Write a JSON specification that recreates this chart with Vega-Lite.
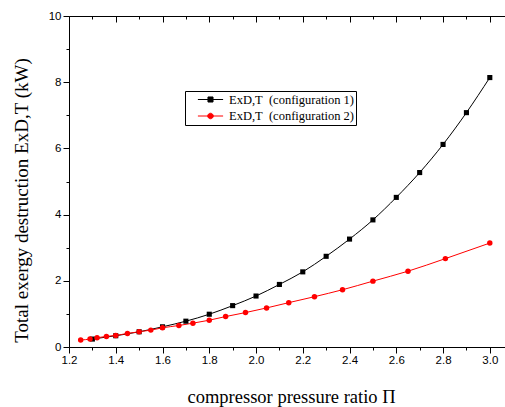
{
  "$schema": "https://vega.github.io/schema/vega-lite/v6.json",
  "width": 436,
  "height": 331,
  "autosize": "none",
  "padding": {"left": 69, "top": 16, "right": 0, "bottom": 60},
  "background": "white",
  "config": {
    "view": {"stroke": null},
    "axis": {"domainColor": "black", "tickColor": "black", "labelColor": "black", "titleColor": "black", "grid": false, "labelFont": "Liberation Sans", "labelFontSize": 11.5, "titleFont": "Liberation Serif", "titleFontWeight": "normal", "titleFontSize": 18.5, "domainWidth": 1, "tickWidth": 1}
  },
  "data": {
    "values": [
      {"s": "c1", "x": 1.3, "y": 0.24},
      {"s": "c1", "x": 1.4, "y": 0.34},
      {"s": "c1", "x": 1.5, "y": 0.46},
      {"s": "c1", "x": 1.6, "y": 0.61},
      {"s": "c1", "x": 1.7, "y": 0.78},
      {"s": "c1", "x": 1.8, "y": 0.99},
      {"s": "c1", "x": 1.9, "y": 1.25},
      {"s": "c1", "x": 2.0, "y": 1.54},
      {"s": "c1", "x": 2.1, "y": 1.89},
      {"s": "c1", "x": 2.2, "y": 2.27},
      {"s": "c1", "x": 2.3, "y": 2.74},
      {"s": "c1", "x": 2.4, "y": 3.26},
      {"s": "c1", "x": 2.5, "y": 3.84},
      {"s": "c1", "x": 2.6, "y": 4.52},
      {"s": "c1", "x": 2.7, "y": 5.27},
      {"s": "c1", "x": 2.8, "y": 6.12},
      {"s": "c1", "x": 2.9, "y": 7.08},
      {"s": "c1", "x": 3.0, "y": 8.14},
      {"s": "c2", "x": 1.25, "y": 0.21},
      {"s": "c2", "x": 1.29, "y": 0.24},
      {"s": "c2", "x": 1.32, "y": 0.28},
      {"s": "c2", "x": 1.36, "y": 0.32},
      {"s": "c2", "x": 1.40, "y": 0.35},
      {"s": "c2", "x": 1.45, "y": 0.41},
      {"s": "c2", "x": 1.50, "y": 0.46},
      {"s": "c2", "x": 1.55, "y": 0.51},
      {"s": "c2", "x": 1.60, "y": 0.58},
      {"s": "c2", "x": 1.67, "y": 0.65},
      {"s": "c2", "x": 1.73, "y": 0.72},
      {"s": "c2", "x": 1.80, "y": 0.81},
      {"s": "c2", "x": 1.87, "y": 0.92},
      {"s": "c2", "x": 1.955, "y": 1.04},
      {"s": "c2", "x": 2.045, "y": 1.18},
      {"s": "c2", "x": 2.14, "y": 1.34},
      {"s": "c2", "x": 2.25, "y": 1.52},
      {"s": "c2", "x": 2.37, "y": 1.73},
      {"s": "c2", "x": 2.50, "y": 1.99},
      {"s": "c2", "x": 2.65, "y": 2.29},
      {"s": "c2", "x": 2.81, "y": 2.67},
      {"s": "c2", "x": 3.00, "y": 3.14}
    ]
  },
  "encoding": {
    "y": {
      "field": "y", "type": "quantitative",
      "scale": {"domain": [0, 10], "nice": false, "zero": false},
      "axis": {
        "title": "Total exergy destruction ExD,T (kW)",
        "values": [0,1,2,3,4,5,6,7,8,9,10],
        "labelExpr": "datum.value % 2 == 0 ? datum.label : ''",
        "tickSize": {"condition": {"test": "datum.value % 2 == 0", "value": 6}, "value": 3},
        "labelPadding": 2,
        "titlePadding": 17,
        "titleY": 184,
        "titleFontSize": 19
      }
    },
    "color": {
      "field": "s", "type": "nominal",
      "scale": {"domain": ["c1", "c2"], "range": ["black", "#ff0000"]},
      "legend": {
        "orient": "none", "legendX": 116, "legendY": 75,
        "title": null,
        "symbolType": "M-2.1,0H2.1M-0.42,-0.42H0.42V0.42H-0.42Z",
        "labelExpr": "datum.value == 'c1' ? 'ExD,T\u00a0 (configuration 1)' : 'ExD,T\u00a0 (configuration 2)'",
        "labelFont": "Liberation Serif", "labelFontSize": 12.5, "labelColor": "black",
        "strokeColor": "black", "fillColor": "white", "padding": 2, "rowPadding": 3.5,
        "symbolSize": 144, "symbolOffset": 17, "labelOffset": 12,
        "encode": {
          "symbols": {
            "update": {
              "shape": {"signal": "datum.value == 'c1' ? 'M-2.1,0H2.1M-0.42,-0.42H0.42V0.42H-0.42Z' : 'M-2.1,0H2.1M0.46,0A0.46,0.46,0,1,1,-0.46,0A0.46,0.46,0,1,1,0.46,0Z'"},
              "stroke": {"signal": "datum.value == 'c1' ? 'black' : '#ff0000'"},
              "fill": {"signal": "datum.value == 'c1' ? 'black' : '#ff0000'"},
              "strokeWidth": {"value": 1},
              "opacity": {"value": 1}
            }
          }
        }
      }
    }
  },
  "layer": [
    {
      "mark": {"type": "line", "interpolate": "monotone", "strokeWidth": 1},
      "encoding": {
        "x": {
          "field": "x", "type": "quantitative",
          "scale": {"domain": [1.2, 3.065], "nice": false, "zero": false},
          "axis": {
            "orient": "bottom",
            "title": "compressor pressure ratio \u03a0",
            "values": [1.2,1.3,1.4,1.5,1.6,1.7,1.8,1.9,2.0,2.1,2.2,2.3,2.4,2.5,2.6,2.7,2.8,2.9,3.0],
            "format": ".1f",
            "labelExpr": "round(datum.value*10) % 2 == 0 ? datum.label : ''",
            "tickSize": {"condition": {"test": "round(datum.value*10) % 2 == 0", "value": 6}, "value": 3},
            "labelPadding": 1,
            "titlePadding": 22,
            "titleX": 222,
            "labelFlush": false
          }
        }
      }
    },
    {
      "transform": [{"filter": "datum.s == 'c1'"}],
      "mark": {"type": "point", "shape": "square", "filled": true, "opacity": 1, "size": 26},
      "encoding": {
        "x": {
          "field": "x", "type": "quantitative",
          "scale": {"domain": [1.2, 3.065], "nice": false, "zero": false},
          "axis": {
            "orient": "top",
            "title": null,
            "labels": false,
            "values": [1.2,1.3,1.4,1.5,1.6,1.7,1.8,1.9,2.0,2.1,2.2,2.3,2.4,2.5,2.6,2.7,2.8,2.9,3.0],
            "tickSize": {"condition": {"test": "round(datum.value*10) % 2 == 0", "value": -6}, "value": -3}
          }
        }
      }
    },
    {
      "transform": [{"filter": "datum.s == 'c2'"}],
      "mark": {"type": "point", "shape": "circle", "filled": true, "opacity": 1, "size": 30},
      "encoding": {
        "x": {"field": "x", "type": "quantitative", "scale": {"domain": [1.2, 3.065], "nice": false, "zero": false}, "axis": null}
      }
    }
  ],
  "resolve": {"axis": {"x": "independent"}}
}
